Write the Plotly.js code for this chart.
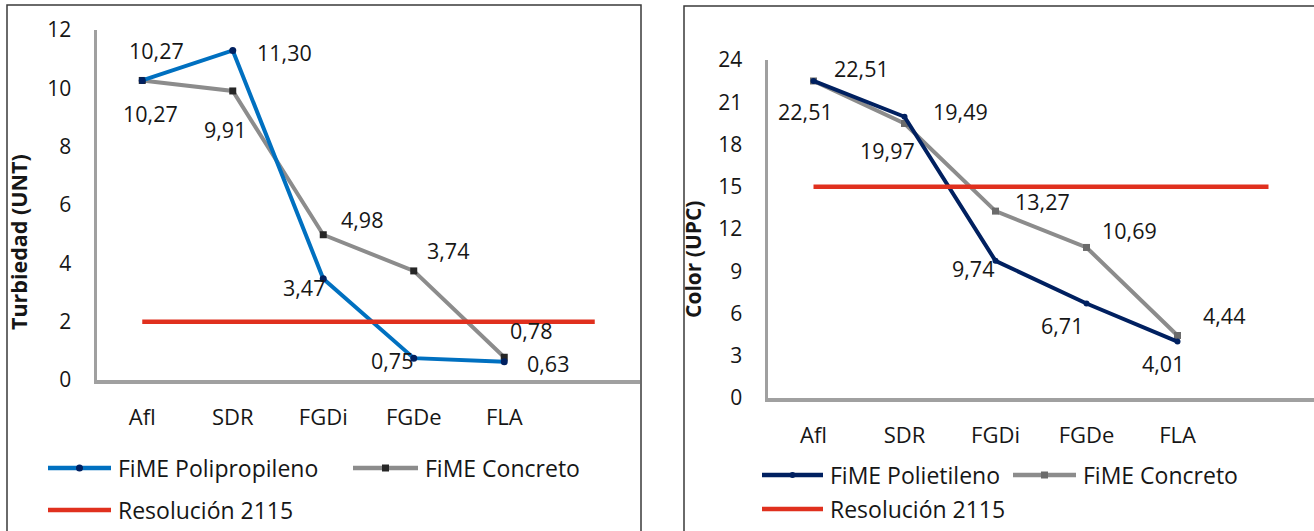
<!DOCTYPE html>
<html>
<head>
<meta charset="utf-8">
<script src="https://cdn.plot.ly/plotly-3.0.1.min.js"></script>
<style>
  html, body { margin: 0; padding: 0; background: #ffffff; }
  #chart { width: 1314px; height: 531px; }
</style>
</head>
<body>
<div id="chart"></div>
<script>
// Etapas del tren de tratamiento FiME
const categorias = ['Afl', 'SDR', 'FGDi', 'FGDe', 'FLA'];

// Turbiedad (UNT)
const turbPolipropileno = [10.27, 11.30, 3.47, 0.75, 0.63];
const turbConcreto = [10.27, 9.91, 4.98, 3.74, 0.78];
const limiteTurbiedad = [2, 2, 2, 2, 2, 2];

// Color (UPC)
const colorPolietileno = [22.51, 19.97, 9.74, 6.71, 4.01];
const colorConcreto = [22.51, 19.49, 13.27, 10.69, 4.44];
const limiteColor = [15, 15, 15, 15, 15, 15];

// Nombres de las series
const nombrePolipropileno = 'FiME Polipropileno';
const nombrePolietileno = 'FiME Polietileno';
const nombreConcreto = 'FiME Concreto';
const nombreNorma = 'Resolución 2115';

const tituloTurbiedad = 'Turbiedad (UNT)';
const tituloColor = 'Color (UPC)';

// ---- estilo ----
const W = 1314, H = 531;
const FONT = '"Open Sans", "Noto Sans", sans-serif';
const TXT = '#161616';
const AZUL = '#0070c0', NAVY = '#002060', GRIS = '#8c8c8c', ROJO = '#e0301e';
const EJE = '#a0a0a0';

const px = x => x / W;
const py = y => 1 - y / H;
const idx = arr => arr.map((_, i) => i);
const fmt = v => v.toFixed(2).replace('.', ',');

// desplazamiento de cada etiqueta respecto a su punto (px en pantalla)
const offTurbPoli = [[14, -30], [52, 2], [-19, 9], [-22, 2], [44, 2]];
const offTurbConc = [[8, 33], [-8, 39], [39, -15], [34, -20], [27, -27]];
const offColorPoli = [[-8, 31], [-17, 34], [-23, 8], [-25, 22], [-15, 22]];
const offColorConc = [[48, -12], [56, -12], [47, -10], [43, -17], [46, -20]];

function serie(vals, name, xa, ya, color, symbol, msize, mcolor) {
  return {
    type: 'scatter', mode: 'lines+markers', name: name,
    x: idx(vals), y: vals, xaxis: xa, yaxis: ya,
    line: { color: color, width: 4 },
    marker: { symbol: symbol, size: msize, color: mcolor },
    showlegend: false, hoverinfo: 'skip'
  };
}

function limite(vals, name, xa, ya) {
  return {
    type: 'scatter', mode: 'lines', name: name,
    x: idx(vals), y: vals, xaxis: xa, yaxis: ya,
    line: { color: ROJO, width: 4.5 },
    showlegend: false, hoverinfo: 'skip'
  };
}

function etiquetas(vals, offs, xa, ya) {
  return vals.map((v, i) => ({
    x: i, y: v, xref: xa, yref: ya, text: fmt(v), showarrow: false,
    xshift: offs[i][0], yshift: -offs[i][1],
    font: { family: FONT, size: 21.5, color: TXT }
  }));
}

const data = [
  serie(turbConcreto, nombreConcreto, 'x', 'y', GRIS, 'square', 7, '#262626'),
  serie(turbPolipropileno, nombrePolipropileno, 'x', 'y', AZUL, 'circle', 7, NAVY),
  limite(limiteTurbiedad, nombreNorma, 'x', 'y'),
  serie(colorConcreto, nombreConcreto, 'x2', 'y2', GRIS, 'square', 7, '#6b6b6b'),
  serie(colorPolietileno, nombrePolietileno, 'x2', 'y2', NAVY, 'circle', 6, NAVY),
  limite(limiteColor, nombreNorma, 'x2', 'y2')
];

function ejeX(domain, anchor) {
  return {
    domain: domain, anchor: anchor, range: [-0.5, 5.5],
    tickmode: 'array', tickvals: idx(categorias), ticktext: categorias,
    showline: true, linecolor: EJE, linewidth: 3.5, showgrid: false, zeroline: false,
    ticks: '', ticklabelstandoff: 15,
    tickfont: { family: FONT, size: 22, color: TXT }, fixedrange: true
  };
}
function ejeY(domain, anchor, max, paso) {
  return {
    domain: domain, anchor: anchor, range: [0, max], dtick: paso, tick0: 0,
    showline: true, linecolor: EJE, linewidth: 3.5, showgrid: false, zeroline: false,
    ticks: '', ticklabelstandoff: 18,
    tickfont: { family: FONT, size: 21, color: TXT }, fixedrange: true
  };
}

// leyenda dibujada a mano: muestra de línea + marcador + texto
function leyenda(items) {
  const shapes = [], anns = [];
  items.forEach(it => {
    shapes.push({ type: 'line', xref: 'paper', yref: 'paper',
      x0: px(it.x0), x1: px(it.x1), y0: py(it.y), y1: py(it.y),
      line: { color: it.color, width: 4.5 } });
    if (it.marker) {
      const cx = (it.x0 + it.x1) / 2, r = it.marker.r;
      shapes.push({ type: it.marker.type, xref: 'paper', yref: 'paper',
        x0: px(cx - r), x1: px(cx + r), y0: py(it.y - r), y1: py(it.y + r),
        fillcolor: it.marker.color, line: { width: 0 } });
    }
    anns.push({ xref: 'paper', yref: 'paper', x: px(it.x1 + 5), y: py(it.y),
      xanchor: 'left', yanchor: 'middle', text: it.text, showarrow: false,
      font: { family: FONT, size: 23, color: TXT } });
  });
  return { shapes, anns };
}

const leg = leyenda([
  { x0: 48, x1: 111, y: 468, color: AZUL, text: nombrePolipropileno, marker: { type: 'circle', r: 3.5, color: NAVY } },
  { x0: 353, x1: 418, y: 468, color: GRIS, text: nombreConcreto, marker: { type: 'rect', r: 3.5, color: '#262626' } },
  { x0: 48, x1: 111, y: 510, color: ROJO, text: nombreNorma },
  { x0: 762, x1: 823, y: 475, color: NAVY, text: nombrePolietileno, marker: { type: 'circle', r: 3, color: NAVY } },
  { x0: 1013, x1: 1076, y: 475, color: GRIS, text: nombreConcreto, marker: { type: 'rect', r: 3.5, color: '#6b6b6b' } },
  { x0: 762, x1: 823, y: 509, color: ROJO, text: nombreNorma }
]);

// marcos de cada gráfico
const marcos = [
  { type: 'rect', xref: 'paper', yref: 'paper', x0: px(7), x1: px(641), y0: py(540), y1: py(5),
    line: { color: '#3a3a3a', width: 1.5 }, fillcolor: 'rgba(0,0,0,0)', layer: 'below' },
  { type: 'rect', xref: 'paper', yref: 'paper', x0: px(684), x1: px(1330), y0: py(540), y1: py(6),
    line: { color: '#3a3a3a', width: 1.5 }, fillcolor: 'rgba(0,0,0,0)', layer: 'below' }
];

const titulos = [
  { xref: 'paper', yref: 'paper', x: px(18), y: py(242), text: '<b>' + tituloTurbiedad + '</b>',
    textangle: -90, showarrow: false, xanchor: 'center', yanchor: 'middle',
    font: { family: FONT, size: 21.5, color: TXT } },
  { xref: 'paper', yref: 'paper', x: px(693), y: py(260), text: '<b>' + tituloColor + '</b>',
    textangle: -90, showarrow: false, xanchor: 'center', yanchor: 'middle',
    font: { family: FONT, size: 21, color: TXT } }
];

const layout = {
  width: W, height: H,
  margin: { l: 0, r: 0, t: 0, b: 0, pad: 0 },
  paper_bgcolor: '#ffffff', plot_bgcolor: 'rgba(0,0,0,0)',
  showlegend: false,
  xaxis: ejeX([px(97), px(640)], 'y'),
  yaxis: ejeY([py(380), py(30)], 'x', 12, 2),
  xaxis2: ejeX([px(768), 1], 'y2'),
  yaxis2: ejeY([py(398), py(60)], 'x2', 24, 3),
  shapes: marcos.concat(leg.shapes),
  annotations: []
    .concat(etiquetas(turbPolipropileno, offTurbPoli, 'x', 'y'))
    .concat(etiquetas(turbConcreto, offTurbConc, 'x', 'y'))
    .concat(etiquetas(colorPolietileno, offColorPoli, 'x2', 'y2'))
    .concat(etiquetas(colorConcreto, offColorConc, 'x2', 'y2'))
    .concat(titulos)
    .concat(leg.anns)
};

Plotly.newPlot('chart', data, layout, { staticPlot: true, displayModeBar: false });
</script>
</body>
</html>
